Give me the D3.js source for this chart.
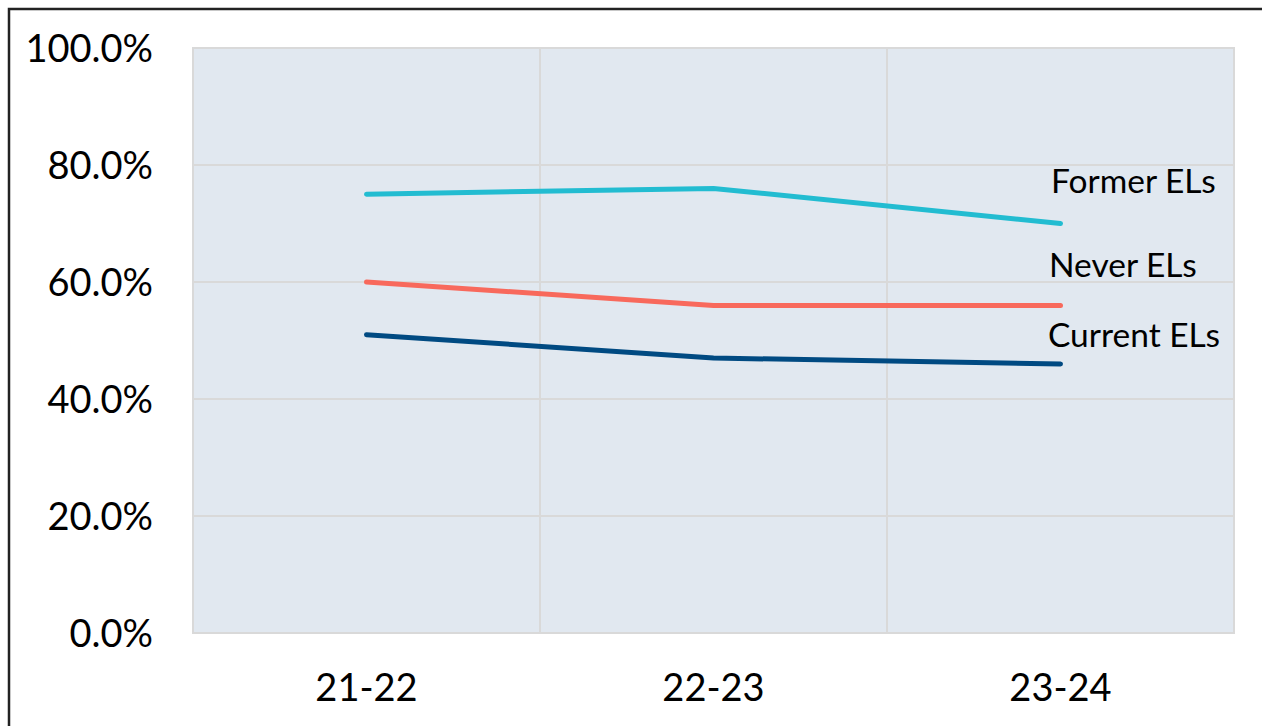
<!DOCTYPE html>
<html><head><meta charset="utf-8">
<script src="https://cdn.jsdelivr.net/npm/d3@7"></script>
<style>body{margin:0;background:#fff}svg{display:block}</style>
</head><body><svg id="c" width="1262" height="726"></svg>
<script>
const categories = ["21-22", "22-23", "23-24"];
const seriesNames = ["Former ELs", "Never ELs", "Current ELs"];
const formerEL = [75, 76, 70];
const neverEL = [60, 56, 56];
const currentEL = [51, 47, 46];
const yTicks = [0, 20, 40, 60, 80, 100];
const colors = ["#22BCD1", "#F8695C", "#004A82"];

const svg = d3.select("#c");
const W = 1262, H = 726;
const m = {l: 193, r: 1234, t: 48, b: 633};
const font = "Lato, 'Open Sans', sans-serif";

svg.append("rect").attr("x", 9).attr("y", 9).attr("width", W + 10).attr("height", H + 10)
  .attr("fill", "#fff").attr("stroke", "#222").attr("stroke-width", 2.5);

const x = d3.scaleBand().domain(categories).range([m.l, m.r]);
const y = d3.scaleLinear().domain([0, 100]).range([m.b, m.t]);

svg.append("rect").attr("x", m.l).attr("y", m.t).attr("width", m.r - m.l).attr("height", m.b - m.t)
  .attr("fill", "#E1E8F0");

svg.append("g").selectAll("line").data(yTicks).join("line")
  .attr("x1", m.l).attr("x2", m.r).attr("y1", d => y(d)).attr("y2", d => y(d))
  .attr("stroke", "#D9D9D9").attr("stroke-width", 2);
svg.append("g").selectAll("line").data(categories.slice(1)).join("line")
  .attr("x1", d => x(d)).attr("x2", d => x(d)).attr("y1", m.t).attr("y2", m.b)
  .attr("stroke", "#D9D9D9").attr("stroke-width", 2);
svg.append("rect").attr("x", m.l).attr("y", m.t).attr("width", m.r - m.l).attr("height", m.b - m.t)
  .attr("fill", "none").attr("stroke", "#D9D9D9").attr("stroke-width", 2);

const yAxis = d3.axisLeft(y).tickValues(yTicks).tickSize(0).tickPadding(0)
  .tickFormat(d => d3.format(".1f")(d) + "%");
const ya = svg.append("g").attr("transform", `translate(153,0)`).call(yAxis);
ya.select(".domain").remove();
ya.selectAll("text").attr("font-family", font).attr("font-size", 38).attr("fill", "#000")
  .attr("dy", "0.36em");

const xAxis = d3.axisBottom(x).tickSize(0).tickPadding(0);
const xa = svg.append("g").attr("transform", `translate(0,674)`).call(xAxis);
xa.select(".domain").remove();
xa.selectAll("text").attr("font-family", font).attr("font-size", 38).attr("fill", "#000")
  .attr("dy", "0.72em");

const series = [formerEL, neverEL, currentEL];
const line = d3.line().x((d, i) => x(categories[i]) + x.bandwidth() / 2).y(d => y(d));
svg.append("g").selectAll("path").data(series).join("path")
  .attr("d", line).attr("fill", "none").attr("stroke", (d, i) => colors[i])
  .attr("stroke-width", 5).attr("stroke-linecap", "round").attr("stroke-linejoin", "round");

const labelY = [193, 277, 347];
const labelX = [1051, 1049, 1048];
svg.append("g").selectAll("text").data(seriesNames).join("text")
  .attr("x", (d, i) => labelX[i]).attr("y", (d, i) => labelY[i])
  .attr("font-family", font).attr("font-size", 33.5).attr("fill", "#000")
  .text(d => d);
</script></body></html>
